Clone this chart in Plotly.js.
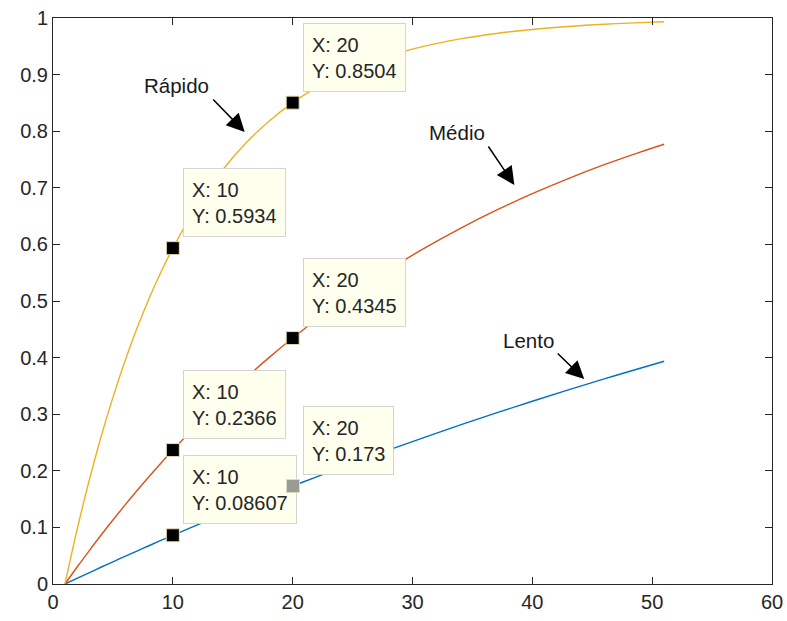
<!DOCTYPE html>
<html>
<head>
<meta charset="utf-8">
<script src="https://cdn.plot.ly/plotly-3.0.1.min.js"></script>
<style>html,body{margin:0;padding:0;background:#fff;}#chart{width:787px;height:621px;}</style>
</head>
<body>
<div id="chart"></div>
<script>
// x positions (time) at which curve values were read
const xVals = [1,2,3,4,5,6,7,8,9,10,12,14,16,18,20,22,25,28,31,34,37,40,43,46,49,51];

// Series values
const rapido = [0,0.0952,0.1813,0.2592,0.3297,0.3935,0.4512,0.5034,0.5507,0.5934,0.6671,0.7275,0.7769,0.8173,0.8504,0.8775,0.9093,0.9328,0.9502,0.9631,0.9727,0.9798,0.9850,0.9889,0.9918,0.9933];
const medio  = [0,0.0296,0.0582,0.0861,0.1131,0.1393,0.1647,0.1894,0.2134,0.2366,0.2811,0.3229,0.3624,0.3995,0.4345,0.4674,0.5132,0.5551,0.5934,0.6284,0.6604,0.6896,0.7163,0.7408,0.7631,0.7769];
const lento  = [0,0.0100,0.0198,0.0296,0.0392,0.0488,0.0582,0.0676,0.0769,0.0861,0.1042,0.1219,0.1393,0.1563,0.1730,0.1894,0.2134,0.2366,0.2592,0.2811,0.3023,0.3229,0.3430,0.3624,0.3812,0.3935];

// Data tips
const tipX = [10, 20];
const rapidoTips = [0.5934, 0.8504];
const medioTips  = [0.2366, 0.4345];
const lentoTips  = [0.08607, 0.173];

// Curve labels
const seriesNames = ['Lento', 'Médio', 'Rápido'];

const xTicks = [0,10,20,30,40,50,60];
const yTicks = [0,0.1,0.2,0.3,0.4,0.5,0.6,0.7,0.8,0.9,1];
const yTickText = ['0','0.1','0.2','0.3','0.4','0.5','0.6','0.7','0.8','0.9','1'];

const colors = {lento:'#0072BD', medio:'#D95319', rapido:'#EDB120'};
const FONT = 'Liberation Sans, Arial, Helvetica, sans-serif';
const TXT = '#262626';

function fmt(v){ return String(Number(v.toPrecision(4))); }

const traces = [
  {x:xVals, y:lento, mode:'lines', line:{color:colors.lento, width:1.4, shape:'spline'}, name:seriesNames[0], hoverinfo:'skip'},
  {x:xVals, y:medio, mode:'lines', line:{color:colors.medio, width:1.4, shape:'spline'}, name:seriesNames[1], hoverinfo:'skip'},
  {x:xVals, y:rapido, mode:'lines', line:{color:colors.rapido, width:1.4, shape:'spline'}, name:seriesNames[2], hoverinfo:'skip'},
];
const tipMarker = {symbol:'square', size:13, color:'#000', line:{color:'#e6dfb0', width:1}};
traces.push({x:tipX, y:lentoTips, mode:'markers', marker:tipMarker, hoverinfo:'skip'});
traces.push({x:tipX, y:medioTips, mode:'markers', marker:tipMarker, hoverinfo:'skip'});
traces.push({x:tipX, y:rapidoTips, mode:'markers', marker:tipMarker, hoverinfo:'skip'});

const annotations = [];
function tipBox(x, y){
  annotations.push({
    x:x, y:y, xref:'x', yref:'y', xanchor:'left', yanchor:'bottom',
    xshift:10, yshift:11, showarrow:false, align:'left', valign:'middle',
    text:'X: '+x+'<br>Y: '+fmt(y), height:51,
    font:{family:FONT, size:20, color:TXT},
    bgcolor:'#FFFFEE', bordercolor:'#d4d4d4', borderwidth:1, borderpad:8
  });
}
tipBox(tipX[1], rapidoTips[1]);
tipBox(tipX[0], rapidoTips[0]);
tipBox(tipX[1], medioTips[1]);
tipBox(tipX[0], medioTips[0]);
tipBox(tipX[0], lentoTips[0]);
tipBox(tipX[1], lentoTips[1]);
// gray (current) marker of the last tip, shown above boxes
annotations.push({
  x:tipX[1], y:lentoTips[1], xref:'x', yref:'y', xanchor:'center', yanchor:'middle',
  showarrow:false, text:' ', width:12, height:12, borderpad:0,
  bgcolor:'#9b9b95', bordercolor:'#e0dcc4', borderwidth:1, font:{size:8}
});

// curve labels with arrows
const labels = [
  {name:seriesNames[2], tx:10.33, ty:0.880, hx:16.0, hy:0.7986, ax:-33, ay:-34},
  {name:seriesNames[1], tx:33.75, ty:0.797, hx:38.5, hy:0.705, ax:-27, ay:-40},
  {name:seriesNames[0], tx:39.67, ty:0.431, hx:44.33, hy:0.362, ax:-28, ay:-27},
];
labels.forEach(l=>{
  annotations.push({x:l.tx, y:l.ty, xref:'x', yref:'y', text:l.name, showarrow:false,
    xanchor:'center', yanchor:'middle', font:{family:FONT, size:20.5, color:'#1a1a1a'}});
  annotations.push({x:l.hx, y:l.hy, xref:'x', yref:'y', text:'', showarrow:true,
    ax:l.ax, ay:l.ay, arrowhead:2, arrowsize:2.4, arrowwidth:1.5, arrowcolor:'#000', standoff:0});
});

const axisCommon = {
  showgrid:false, zeroline:false, showline:true, linecolor:TXT, linewidth:1,
  mirror:'ticks', ticks:'inside', ticklen:7, tickwidth:1, tickcolor:TXT,
  tickfont:{family:FONT, size:20, color:TXT}, fixedrange:true
};

const layout = {
  width:787, height:621,
  margin:{l:53, r:15, t:18, b:37, pad:0},
  paper_bgcolor:'#fff', plot_bgcolor:'#fff',
  showlegend:false,
  xaxis:Object.assign({}, axisCommon, {range:[0,60], tickmode:'array', tickvals:xTicks, ticktext:xTicks.map(String)}),
  yaxis:Object.assign({}, axisCommon, {range:[0,1], tickmode:'array', tickvals:yTicks, ticktext:yTickText}),
  annotations:annotations
};

Plotly.newPlot('chart', traces, layout, {displayModeBar:false, staticPlot:true});
</script>
</body>
</html>
